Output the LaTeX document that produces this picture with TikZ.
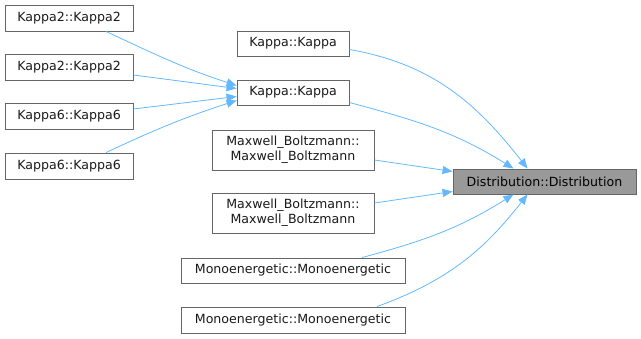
\documentclass[tikz,border=0pt]{standalone}
\usepackage{fontspec}
\setmainfont{DejaVu Sans}
\usetikzlibrary{arrows.meta, positioning}
\definecolor{edgeblue}{RGB}{99,184,255}
\definecolor{boxgray}{RGB}{102,102,102}
\definecolor{fillgray}{RGB}{153,153,153}
\definecolor{txtdark}{RGB}{26,26,26}
\tikzset{
  fnbox/.style={rectangle, draw=boxgray, fill=white, align=center,
    inner sep=0pt, minimum height=25pt, text=txtdark,
    font=\fontsize{12.6}{15}\selectfont, line width=0.9pt},
  mainbox/.style={fnbox, fill=fillgray, text=black},
  arrow/.style={-{Stealth[length=10pt, width=8pt, inset=0pt]},
    color=edgeblue, line width=0.8pt}
}

\begin{document}
\begin{tikzpicture}[x=1pt, y=1pt]
  \useasboundingbox (0,0) rectangle (641,339);

  % Left column callers
  \node[fnbox, minimum width=128pt, minimum height=26pt] (kappa2_a) at (69,321) {Kappa2::Kappa2};
  \node[fnbox, minimum width=128pt, minimum height=26pt] (kappa2_b) at (69,272) {Kappa2::Kappa2};
  \node[fnbox, minimum width=128pt, minimum height=26pt] (kappa6_a) at (69,223) {Kappa6::Kappa6};
  \node[fnbox, minimum width=128pt, minimum height=26pt] (kappa6_b) at (69,173) {Kappa6::Kappa6};

  % Middle column callers
  \node[fnbox, minimum width=112pt] (kappa_a) at (293,295.5) {Kappa::Kappa};
  \node[fnbox, minimum width=112pt] (kappa_b) at (293,246.5) {Kappa::Kappa};
  \node[fnbox, minimum width=162pt, minimum height=40pt] (mb_a) at (293,189) {Maxwell\_Boltzmann::\\Maxwell\_Boltzmann};
  \node[fnbox, minimum width=162pt, minimum height=40pt] (mb_b) at (293,126) {Maxwell\_Boltzmann::\\Maxwell\_Boltzmann};
  \node[fnbox, minimum width=224pt] (mono_a) at (293,68.5) {Monoenergetic::Monoenergetic};
  \node[fnbox, minimum width=224pt, minimum height=26pt] (mono_b) at (293,19) {Monoenergetic::Monoenergetic};

  % Callee
  \node[mainbox, minimum width=183pt] (dist) at (544.5,157.5) {Distribution::Distribution};

  % Calls into Kappa
  \draw[arrow] ([xshift=37pt]kappa2_a.south) to[out=-25, in=162] ([yshift=7pt]kappa_b.west);
  \draw[arrow] ([yshift=-8pt]kappa2_b.east) -- ([yshift=4pt]kappa_b.west);
  \draw[arrow] ([yshift=7pt]kappa6_a.east) -- ([yshift=-4pt]kappa_b.west);
  \draw[arrow] ([xshift=37pt]kappa6_b.north) to[out=25, in=-162] ([yshift=-8pt]kappa_b.west);

  % Calls into Distribution
  \draw[arrow] ([yshift=-6pt]kappa_a.east) to[out=-10, in=128] ([xshift=-17pt]dist.north);
  \draw[arrow] ([yshift=-10pt]kappa_b.east) to[out=-15, in=148] ([xshift=-31pt]dist.north);
  \draw[arrow] ([yshift=-10pt]mb_a.east) -- ([yshift=10pt]dist.west);
  \draw[arrow] ([yshift=10pt]mb_b.east) -- ([yshift=-10pt]dist.west);
  \draw[arrow] ([xshift=69pt]mono_a.north) to[out=15, in=-148] ([xshift=-31pt]dist.south);
  \draw[arrow] ([xshift=84pt]mono_b.north) to[out=20, in=-128] ([xshift=-17pt]dist.south);
\end{tikzpicture}
\end{document}
